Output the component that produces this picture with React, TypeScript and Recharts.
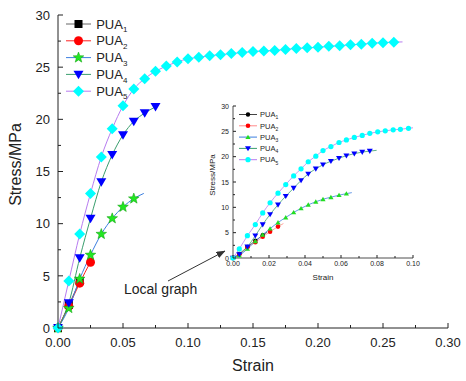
import { LineChart, Line, XAxis, YAxis, Label } from 'recharts';

const FONT = '"Liberation Sans", Arial, Helvetica, sans-serif';
const INK = '#222';

// ---- main graph: strain vs stress (MPa), markers every ~0.0083 strain ----
const mainStrain = [
  0, 0.0083, 0.0167, 0.025, 0.0333, 0.0417, 0.05, 0.0583, 0.0667, 0.075, 0.0833,
  0.0917, 0.1, 0.1083, 0.1167, 0.125, 0.1333, 0.1417, 0.15, 0.1583, 0.1667, 0.175,
  0.1833, 0.1917, 0.2, 0.2083, 0.2167, 0.225, 0.2333, 0.2417, 0.25, 0.2583,
];
const mainPUA1 = [0, 2.2, 4.5];
const mainPUA2 = [0, 2.1, 4.3, 6.3];
const mainPUA3 = [0, 1.9, 4.7, 7.0, 9.0, 10.5, 11.6, 12.4];
const mainPUA4 = [0, 2.4, 6.7, 10.5, 14.0, 16.6, 18.5, 19.8, 20.6, 21.2];
const mainPUA5 = [
  0, 4.5, 9.0, 12.9, 16.4, 19.1, 21.3, 22.9, 23.9, 24.6, 25.1, 25.5, 25.8, 25.95, 26.1, 26.2,
  26.3, 26.4, 26.5, 26.55, 26.6, 26.7, 26.8, 26.85, 26.9, 27.0, 27.05, 27.15, 27.2, 27.3, 27.35, 27.4,
];
// curves run on a little past their last marker
const mainTailPUA2 = [0.027, 6.7];
const mainTailPUA3 = [0.066, 12.9];
const mainTailPUA5 = [0.265, 27.42];

// ---- inset ("Local graph"), markers every ~0.0043 strain ----
const insetStrain = [
  0, 0.0035, 0.008, 0.0124, 0.0165, 0.0206, 0.025, 0.0293, 0.0337, 0.0378, 0.0418, 0.046,
  0.05, 0.0544, 0.0589, 0.063, 0.0674, 0.0718, 0.076, 0.0804, 0.0846, 0.089, 0.093, 0.0975,
];
const insetPUA1 = [0, 0.8, 2.2, 3.4, 4.5];
const insetPUA2 = [0, 0.7, 2.1, 3.1, 4.2, 5.2, 6.2];
const insetPUA3 = [0, 0.5, 1.8, 3.3, 4.6, 5.8, 7.0, 8.0, 9.0, 9.8, 10.5, 11.1, 11.6, 12.0, 12.4, 12.7];
const insetPUA4 = [
  0, 0.7, 2.2, 4.4, 6.6, 8.6, 10.5, 12.2, 13.8, 15.3, 16.6, 17.6, 18.4, 19.1, 19.7, 20.2, 20.6, 20.9, 21.1,
];
const insetPUA5 = [
  0, 1.8, 4.4, 6.6, 8.9, 10.9, 12.8, 14.5, 16.2, 17.6, 19.0, 20.1, 21.2, 22.0, 22.8, 23.3, 23.8,
  24.2, 24.6, 24.9, 25.1, 25.3, 25.4, 25.6,
];
const insetTailPUA1 = [0.019, 5.1];
const insetTailPUA2 = [0.028, 6.8];
const insetTailPUA3 = [0.066, 12.9];
const insetTailPUA4 = [0.0798, 21.25];
const insetTailPUA5 = [0.1, 25.7];

const seriesIndex = ['1', '2', '3', '4', '5'];

const mainXTicks = [0, 0.025, 0.05, 0.075, 0.1, 0.125, 0.15, 0.175, 0.2, 0.225, 0.25, 0.275, 0.3];
const mainXLabels = [0, 0.05, 0.1, 0.15, 0.2, 0.25, 0.3];
const stressTicks = [0, 2.5, 5, 7.5, 10, 12.5, 15, 17.5, 20, 22.5, 25, 27.5, 30];
const stressLabels = [0, 5, 10, 15, 20, 25, 30];
const insetXTicks = [0, 0.01, 0.02, 0.03, 0.04, 0.05, 0.06, 0.07, 0.08, 0.09, 0.1];
const insetXLabels = [0, 0.02, 0.04, 0.06, 0.08, 0.1];

type Pt = { x: number; y: number; mark: boolean };
type MarkerKind = 'square' | 'circle' | 'star' | 'up' | 'down' | 'diamond';
interface SeriesStyle {
  line: string;
  kind: MarkerKind;
  fill: string;
  size: number;
}

function toPoints(xs: number[], ys: number[], tail?: number[]): Pt[] {
  const pts = ys.map((y, i) => ({ x: xs[i], y, mark: true }));
  if (tail) pts.push({ x: tail[0], y: tail[1], mark: false });
  return pts;
}

const mainData = [
  toPoints(mainStrain, mainPUA1),
  toPoints(mainStrain, mainPUA2, mainTailPUA2),
  toPoints(mainStrain, mainPUA3, mainTailPUA3),
  toPoints(mainStrain, mainPUA4),
  toPoints(mainStrain, mainPUA5, mainTailPUA5),
];
const insetData = [
  toPoints(insetStrain, insetPUA1, insetTailPUA1),
  toPoints(insetStrain, insetPUA2, insetTailPUA2),
  toPoints(insetStrain, insetPUA3, insetTailPUA3),
  toPoints(insetStrain, insetPUA4, insetTailPUA4),
  toPoints(insetStrain, insetPUA5, insetTailPUA5),
];

const MAIN_STYLE: SeriesStyle[] = [
  { line: '#666666', kind: 'square', fill: '#000000', size: 4 },
  { line: '#ff2020', kind: 'circle', fill: '#ff0000', size: 4.5 },
  { line: '#3d7fe0', kind: 'star', fill: '#22e622', size: 5.6 },
  { line: '#3a9e6e', kind: 'down', fill: '#0000ff', size: 5 },
  { line: '#b77cf0', kind: 'diamond', fill: '#00ffff', size: 5.5 },
];
const INSET_STYLE: SeriesStyle[] = [
  { line: '#444444', kind: 'circle', fill: '#000000', size: 2.2 },
  { line: '#ff8a8a', kind: 'circle', fill: '#ff0000', size: 2.3 },
  { line: '#3d7fe0', kind: 'up', fill: '#22dd22', size: 2.6 },
  { line: '#3a9e6e', kind: 'down', fill: '#0000ff', size: 3 },
  { line: '#b77cf0', kind: 'circle', fill: '#00ffff', size: 2.6 },
];

function Marker({ kind, cx, cy, s, fill }: { kind: MarkerKind; cx: number; cy: number; s: number; fill: string }) {
  if (kind === 'square') return <rect x={cx - s} y={cy - s} width={s * 2} height={s * 2} fill={fill} />;
  if (kind === 'circle') return <circle cx={cx} cy={cy} r={s} fill={fill} />;
  if (kind === 'diamond')
    return <polygon points={`${cx},${cy - s} ${cx + s},${cy} ${cx},${cy + s} ${cx - s},${cy}`} fill={fill} />;
  if (kind === 'down')
    return (
      <polygon points={`${cx - s},${cy - s * 0.75} ${cx + s},${cy - s * 0.75} ${cx},${cy + s * 0.95}`} fill={fill} />
    );
  if (kind === 'up')
    return (
      <polygon points={`${cx - s},${cy + s * 0.75} ${cx + s},${cy + s * 0.75} ${cx},${cy - s * 0.95}`} fill={fill} />
    );
  const pts: string[] = [];
  for (let k = 0; k < 10; k++) {
    const a = (Math.PI / 5) * k - Math.PI / 2;
    const r = k % 2 === 0 ? s : s * 0.42;
    pts.push(`${(cx + r * Math.cos(a)).toFixed(2)},${(cy + r * Math.sin(a)).toFixed(2)}`);
  }
  return <polygon points={pts.join(' ')} fill={fill} stroke="#0c9c0c" strokeWidth={0.5} />;
}

const dotRenderer = (st: SeriesStyle) => (props: any) => {
  const { cx, cy, payload, index } = props;
  if (!payload?.mark || cx == null || cy == null) return <g key={`d-${index}`} />;
  return (
    <g key={`d-${index}`}>
      <Marker kind={st.kind} cx={cx} cy={cy} s={st.size} fill={st.fill} />
    </g>
  );
};

const isIn = (list: number[], v: number) => list.some((m) => Math.abs(m - v) < 1e-9);

// ticks point inward; only the majors carry a label
const xTick = (labels: number[], len: number, minor: number, fontSize: number, dy: number) => (props: any) => {
  const { x, y, payload } = props;
  const major = isIn(labels, payload.value);
  return (
    <g>
      <line x1={x} y1={y} x2={x} y2={y - (major ? len : minor)} stroke={INK} />
      {major && (
        <text x={x} y={y + dy} textAnchor="middle" fontSize={fontSize} fontFamily={FONT} fill={INK}>
          {payload.value.toFixed(2)}
        </text>
      )}
    </g>
  );
};

const yTick = (labels: number[], len: number, minor: number, fontSize: number, gap: number) => (props: any) => {
  const { x, y, payload } = props;
  const major = isIn(labels, payload.value);
  return (
    <g>
      <line x1={x} y1={y} x2={x + (major ? len : minor)} y2={y} stroke={INK} />
      {major && (
        <text x={x - gap} y={y + fontSize * 0.36} textAnchor="end" fontSize={fontSize} fontFamily={FONT} fill={INK}>
          {payload.value}
        </text>
      )}
    </g>
  );
};

const xTitle = (dy: number, fontSize: number) => (props: any) => {
  const vb = props.viewBox;
  return (
    <text x={vb.x + vb.width / 2} y={vb.y + dy} textAnchor="middle" fontSize={fontSize} fontFamily={FONT} fill={INK}>
      Strain
    </text>
  );
};

const yTitle = (dx: number, shift: number, fontSize: number) => (props: any) => {
  const vb = props.viewBox;
  const x = vb.x + dx;
  const y = vb.y + vb.height / 2 + shift;
  return (
    <text
      x={x}
      y={y}
      transform={`rotate(-90 ${x} ${y})`}
      textAnchor="middle"
      fontSize={fontSize}
      fontFamily={FONT}
      fill={INK}
    >
      Stress/MPa
    </text>
  );
};

function MainChart() {
  return (
    <LineChart width={466} height={381} margin={{ top: 15, right: 18, bottom: 0, left: 0 }}>
      <XAxis
        dataKey="x"
        type="number"
        domain={[0, 0.3]}
        ticks={mainXTicks}
        interval={0}
        tickSize={0}
        tickMargin={0}
        tickLine={false}
        height={53}
        axisLine={{ stroke: INK }}
        tick={xTick(mainXLabels, 5, 3, 13, 19)}
      >
        <Label content={xTitle(43, 16)} />
      </XAxis>
      <YAxis
        type="number"
        domain={[0, 30]}
        ticks={stressTicks}
        interval={0}
        tickSize={0}
        tickMargin={0}
        tickLine={false}
        width={58}
        axisLine={{ stroke: INK }}
        tick={yTick(stressLabels, 5, 3, 13, 8)}
      >
        <Label content={yTitle(21, -7, 16)} />
      </YAxis>
      <XAxis xAxisId="top" orientation="top" type="number" domain={[0, 0.3]} tick={false} tickLine={false} height={0} axisLine={{ stroke: INK }} />
      <YAxis yAxisId="right" orientation="right" type="number" domain={[0, 30]} tick={false} tickLine={false} width={0} axisLine={{ stroke: INK }} />
      {mainData.map((pts, i) => (
        <Line
          key={`main-${i}`}
          data={pts}
          dataKey="y"
          type="monotone"
          stroke={MAIN_STYLE[i].line}
          strokeWidth={1}
          dot={dotRenderer(MAIN_STYLE[i])}
          activeDot={false}
          isAnimationActive={false}
        />
      ))}
    </LineChart>
  );
}

function InsetChart() {
  return (
    <LineChart width={230} height={190} margin={{ top: 8, right: 12, bottom: 0, left: 0 }}>
      <XAxis
        dataKey="x"
        type="number"
        domain={[0, 0.1]}
        ticks={insetXTicks}
        interval={0}
        tickSize={0}
        tickMargin={0}
        tickLine={false}
        height={30}
        axisLine={{ stroke: INK, strokeWidth: 0.8 }}
        tick={xTick(insetXLabels, 3, 2, 7, 8)}
      >
        <Label content={xTitle(22, 8)} />
      </XAxis>
      <YAxis
        type="number"
        domain={[0, 30]}
        ticks={stressTicks}
        interval={0}
        tickSize={0}
        tickMargin={0}
        tickLine={false}
        width={38}
        axisLine={{ stroke: INK, strokeWidth: 0.8 }}
        tick={yTick(stressLabels, 3, 2, 7, 4)}
      >
        <Label content={yTitle(20, -7, 8)} />
      </YAxis>
      <XAxis xAxisId="top" orientation="top" type="number" domain={[0, 0.1]} tick={false} tickLine={false} height={0} axisLine={{ stroke: INK, strokeWidth: 0.8 }} />
      <YAxis yAxisId="right" orientation="right" type="number" domain={[0, 30]} tick={false} tickLine={false} width={0} axisLine={{ stroke: INK, strokeWidth: 0.8 }} />
      {insetData.map((pts, i) => (
        <Line
          key={`inset-${i}`}
          data={pts}
          dataKey="y"
          type="monotone"
          stroke={INSET_STYLE[i].line}
          strokeWidth={0.8}
          dot={dotRenderer(INSET_STYLE[i])}
          activeDot={false}
          isAnimationActive={false}
        />
      ))}
    </LineChart>
  );
}

function LegendBlock({
  styles,
  x0,
  y0,
  step,
  lineLen,
  fontSize,
  subSize,
}: {
  styles: SeriesStyle[];
  x0: number;
  y0: number;
  step: number;
  lineLen: number;
  fontSize: number;
  subSize: number;
}) {
  return (
    <g>
      {styles.map((st, i) => {
        const y = y0 + i * step;
        return (
          <g key={`lg-${i}`}>
            <line x1={x0} y1={y} x2={x0 + lineLen} y2={y} stroke={st.line} strokeWidth={1} />
            <Marker kind={st.kind} cx={x0 + lineLen / 2} cy={y} s={st.size} fill={st.fill} />
            <text x={x0 + lineLen + fontSize * 0.4} y={y + fontSize * 0.36} fontSize={fontSize} fontFamily={FONT} fill={INK}>
              PUA
              <tspan fontSize={subSize} dy={subSize * 0.45}>
                {seriesIndex[i]}
              </tspan>
            </text>
          </g>
        );
      })}
    </g>
  );
}

export default function App() {
  return (
    <div style={{ position: 'absolute', left: 0, top: 0, width: 466, height: 381, background: '#fff' }}>
      <MainChart />
      <div style={{ position: 'absolute', left: 195, top: 98 }}>
        <InsetChart />
      </div>
      <svg width={466} height={381} style={{ position: 'absolute', left: 0, top: 0, pointerEvents: 'none' }}>
        <defs>
          <marker id="arrowHead" markerWidth="9" markerHeight="7" refX="8.5" refY="3.5" orient="auto">
            <path d="M0,0 L9,3.5 L0,7 z" fill="#333" />
          </marker>
        </defs>
        <LegendBlock styles={MAIN_STYLE} x0={66} y0={24} step={16.8} lineLen={25} fontSize={13} subSize={8} />
        <LegendBlock styles={INSET_STYLE} x0={239} y0={114.5} step={11.3} lineLen={18} fontSize={7.5} subSize={5} />
        <line x1={168} y1={281} x2={225} y2={251} stroke="#333" strokeWidth={1} markerEnd="url(#arrowHead)" />
        <text x={124} y={294} fontSize={14} fontFamily={FONT} fill={INK}>
          Local graph
        </text>
      </svg>
    </div>
  );
}
